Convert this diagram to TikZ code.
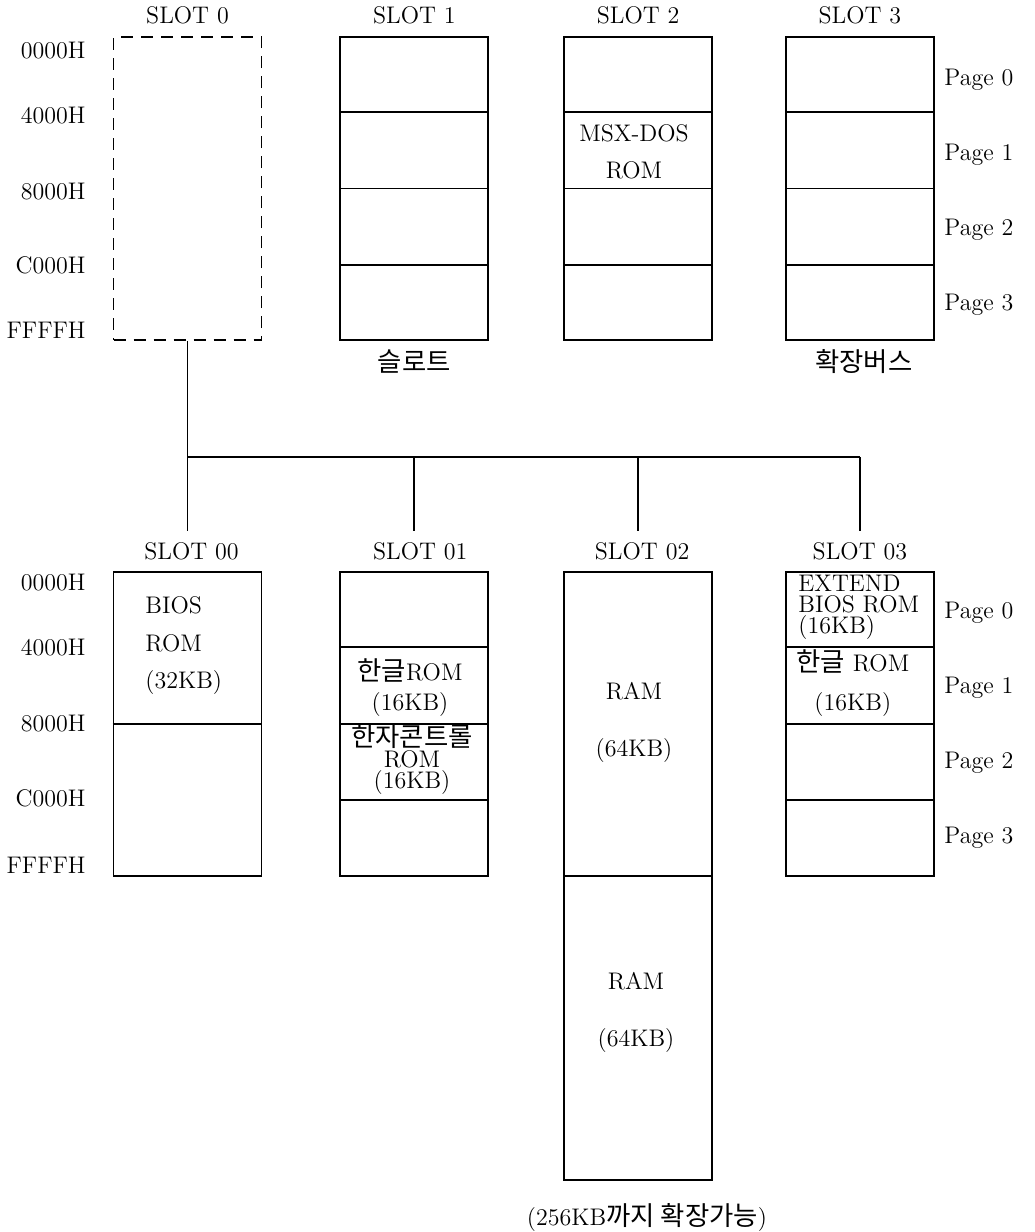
\documentclass[tikz,border=0pt]{standalone}
\usepackage{fontspec}
\newfontfamily\kor[Scale=1.1]{Noto Sans CJK KR}
\usetikzlibrary{positioning,calc}
\newcommand{\hg}[1]{{\kor #1}}

\begin{document}
\begin{tikzpicture}[x=0.5pt,y=-0.5pt,
slotbox/.style={draw,line width=0.9pt,minimum width=74pt,minimum height=151.5pt,inner sep=0pt},
lbl/.style={inner sep=2pt,text height=8.2pt,text depth=0pt,font=\fontsize{12}{14}\selectfont},
addr/.style={lbl,anchor=east},
pg/.style={lbl,anchor=west},
cell/.style={inner sep=0pt,font=\fontsize{12}{#1}\selectfont},
cell/.default=14pt,
bus/.style={line width=0.9pt}]
\useasboundingbox (0,0) rectangle (1034,1232);
% primary slots
\node[slotbox,dashed,dash pattern=on 6pt off 4pt] (s0) at (187.5,188.5) {};
\node[slotbox,right=38.5pt of s0] (s1) {};
\node[slotbox,right=37pt of s1] (s2) {};
\node[slotbox,right=36pt of s2] (s3) {};
% expanded slots
\node[slotbox,minimum height=152pt,below=115pt of s0] (s00) {};
\node[slotbox,minimum height=152pt,below=115pt of s1] (s01) {};
\node[slotbox,minimum height=304pt,below=115pt of s2] (s02) {};
\node[slotbox,minimum height=152pt,below=115pt of s3] (s03) {};
% page lines
\foreach \s in {s1,s2,s3,s01,s03}
  \foreach \f in {.25,.5,.75}
    \draw[line width=0.9pt] ($(\s.north west)!\f!(\s.south west)$) -- ($(\s.north east)!\f!(\s.south east)$);
\foreach \s in {s00,s02}
  \draw[line width=0.9pt] ($(\s.north west)!.5!(\s.south west)$) -- ($(\s.north east)!.5!(\s.south east)$);
% slot names
\node[lbl,above=4pt of s0] (l0) {SLOT 0};
\node[lbl,above=4pt of s1] (l1) {SLOT 1};
\node[lbl,above=4pt of s2] (l2) {SLOT 2};
\node[lbl,above=4pt of s3] (l3) {SLOT 3};
\node[lbl,above=3.5pt of s00,xshift=2pt] (l00) {SLOT 00};
\node[lbl,above=3.5pt of s01,xshift=3pt] (l01) {SLOT 01};
\node[lbl,above=3.5pt of s02,xshift=2pt] (l02) {SLOT 02};
\node[lbl,above=3.5pt of s03] (l03) {SLOT 03};
\node[lbl,below=5pt of s1] (n1) {\hg{슬로트}};
\node[lbl,below=5pt of s3,xshift=2pt] (n3) {\hg{확장버스}};
% addresses and pages
\foreach \a/\y [count=\i] in {0000H/50,4000H/115,8000H/191,C000H/265,FFFFH/330}
  \node[addr] (ta\i) at (90,\y) {\a};
\foreach \a/\y [count=\i] in {0000H/582,4000H/647,8000H/723,C000H/798,FFFFH/865}
  \node[addr] (ba\i) at (90,\y) {\a};
\foreach \i/\y in {0/77,1/152,2/227,3/302}
  \node[pg] (tp\i) at (940,\y) {Page \i};
\foreach \i/\y in {0/610,1/685,2/760,3/835}
  \node[pg] (bp\i) at (940,\y) {Page \i};
% cell contents
\node[cell=18.5pt,align=center] (dos) at (634,152) {MSX-DOS\\ROM};
\node[cell=18.75pt,align=left,anchor=west] (bios) at (145,646) {BIOS\\ROM\\(32KB)};
\node[cell=15pt,align=center] (hrom) at (410,688) {\hg{한글}ROM\\(16KB)};
\node[cell=10.5pt,align=center] (hctl) at (412,760) {\hg{한자콘트롤}\\ROM\\(16KB)};
\node[cell=28.5pt,align=center] (ram1) at (634,722) {RAM\\(64KB)};
\node[cell=28.5pt,align=center] (ram2) at (636,1012) {RAM\\(64KB)};
\node[cell=10.5pt,align=left,anchor=west] (ext) at (798,607) {EXTEND\\BIOS ROM\\(16KB)};
\node[cell=19.5pt,align=center,anchor=west] (hrom3) at (796,683) {\hg{한글} ROM\\(16KB)};
\node[lbl] (note) at (647,1217) {(256KB\hg{까지 확장가능})};
% bus
\coordinate (b0) at (s0.south |- 0,457);
\draw[bus,shorten >=4pt] (s0.south) -- (s0.south |- l00.north);
\draw[bus] (b0) -- (s03.north |- b0);
\foreach \s in {01,02,03}
  \draw[bus,shorten >=4pt] (s\s.north |- b0) -- (s\s.north |- l\s.north);
\end{tikzpicture}
\end{document}
